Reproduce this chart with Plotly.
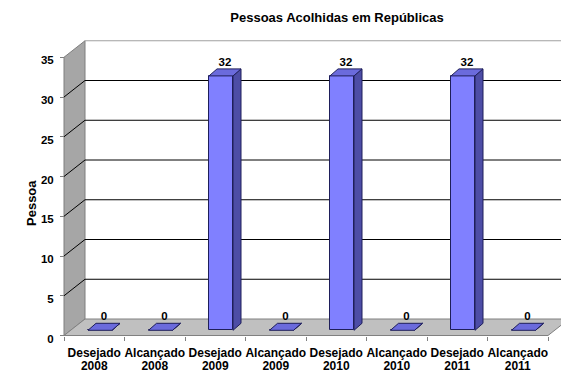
import plotly.graph_objects as go

# ---------------- data ----------------
categories = ["Desejado 2008", "Alcançado 2008", "Desejado 2009", "Alcançado 2009",
              "Desejado 2010", "Alcançado 2010", "Desejado 2011", "Alcançado 2011"]
values = [0, 0, 32, 0, 32, 0, 32, 0]
y_ticks = [0, 5, 10, 15, 20, 25, 30, 35]
chart_title = "Pessoas Acolhidas em Repúblicas"
y_title = "Pessoa"

# ---------------- geometry / style ----------------
W, H = 561, 372
ML, MR, MT, MB = 60, 0, 36, 30
PX_CAT = 60.5          # pixels per category
PX_VAL = 7.95          # pixels per value unit
X0_PIX, Y0_PIX = 64, 335.5

xmin = -(X0_PIX - ML) / PX_CAT
xmax = xmin + (W - ML - MR) / PX_CAT
plot_h = H - MT - MB
ymin = -((H - MB) - Y0_PIX) / PX_VAL
ymax = ymin + plot_h / PX_VAL

DX = 21 / PX_CAT        # wall depth
DY = 16.5 / PX_VAL
BASE = 5.2 / PX_VAL     # bar front offset in depth
BAR_L = 24 / PX_CAT
BAR_W = 24 / PX_CAT
BDX = 8 / PX_CAT        # bar depth
BDY = 7 / PX_VAL

FONT = "Liberation Sans, Arial, sans-serif"
FRONT, TOP, SIDE, EDGE = "#8080FF", "#6B6BDC", "#4D4DA6", "#1E1E5A"

n = len(categories)
top_val = y_ticks[-1]
line1 = [c.split(" ")[0] for c in categories]
line2 = [c.split(" ")[1] for c in categories]

fig = go.Figure()

# front faces
xl = [i + BAR_L for i in range(n)]
xr = [x + BAR_W for x in xl]
fig.add_trace(go.Bar(x=[x + BAR_W / 2 for x in xl], y=values, base=BASE, width=BAR_W,
                     marker=dict(color=FRONT, line=dict(color=EDGE, width=1)),
                     hoverinfo="skip", showlegend=False))

# side faces
sx, sy = [], []
for a, b, v in zip(xl, xr, values):
    sx += [b, b + BDX, b + BDX, b, b, None]
    sy += [BASE, BASE + BDY, BASE + v + BDY, BASE + v, BASE, None]
fig.add_trace(go.Scatter(x=sx, y=sy, mode="lines", fill="toself", fillcolor=SIDE,
                         line=dict(color=EDGE, width=1), hoverinfo="skip", showlegend=False))

# top faces
tx, ty = [], []
for a, b, v in zip(xl, xr, values):
    tx += [a, b, b + BDX, a + BDX, a, None]
    ty += [BASE + v, BASE + v, BASE + v + BDY, BASE + v + BDY, BASE + v, None]
fig.add_trace(go.Scatter(x=tx, y=ty, mode="lines", fill="toself", fillcolor=TOP,
                         line=dict(color=EDGE, width=1), hoverinfo="skip", showlegend=False))

# value labels
fig.add_trace(go.Scatter(x=[a + BAR_W / 2 + BDX / 2 for a in xl],
                         y=[BASE + v + BDY for v in values],
                         text=[str(v) for v in values], mode="text",
                         textposition="top center",
                         textfont=dict(family=FONT, size=11.5, color="black", weight="bold"),
                         hoverinfo="skip", showlegend=False))

# dummy traces so the overlay axes exist
for ax in ["x2", "x3"]:
    fig.add_trace(go.Scatter(x=[None], y=[None], xaxis=ax, yaxis="y", mode="markers",
                             hoverinfo="skip", showlegend=False))

# walls, floor, gridlines
shapes = []
shapes.append(dict(type="path", xref="x", yref="y", layer="below",
                   path=f"M 0,0 L 0,{top_val} L {DX},{top_val + DY} L {DX},{DY} Z",
                   fillcolor="#A6A6A6", line=dict(color="#7F7F7F", width=1)))
shapes.append(dict(type="path", xref="x", yref="y", layer="below",
                   path=f"M 0,0 L {n},0 L {n + DX},{DY} L {DX},{DY} Z",
                   fillcolor="#C0C0C0", line=dict(color="#808080", width=1)))
shapes.append(dict(type="line", xref="x", yref="y", layer="below",
                   x0=DX, y0=top_val + DY, x1=n + DX, y1=top_val + DY,
                   line=dict(color="#A0A0A0", width=1)))
for v in y_ticks[1:-1]:
    shapes.append(dict(type="line", xref="x", yref="y", layer="below",
                       x0=DX, y0=v + DY, x1=n + DX, y1=v + DY,
                       line=dict(color="#000000", width=1)))
    shapes.append(dict(type="line", xref="x", yref="y", layer="below",
                       x0=0, y0=v, x1=DX, y1=v + DY,
                       line=dict(color="#000000", width=1)))

posY = (0 - ymin) / (ymax - ymin)
posX = (0 - xmin) / (xmax - xmin)
tickfont = dict(family=FONT, size=12, color="black", weight="bold")
common_x = dict(range=[xmin, xmax], anchor="free", position=posY, showgrid=False,
                zeroline=False, showline=False, fixedrange=True)

fig.update_layout(
    width=W, height=H, autosize=False,
    margin=dict(l=ML, r=MR, t=MT, b=MB, pad=0),
    paper_bgcolor="white", plot_bgcolor="white",
    bargap=0, showlegend=False,
    shapes=shapes,
    title=dict(text=chart_title, x=337 / W, xref="container", xanchor="center",
               y=1 - 17 / H, yref="container", yanchor="middle",
               font=dict(family=FONT, size=13, color="black", weight="bold")),
    xaxis=dict(**common_x, tickvals=[i + 0.5 for i in range(n)], ticktext=line1,
               ticks="", ticklabelstandoff=8, tickfont=tickfont),
    xaxis2=dict(**common_x, overlaying="x", tickvals=[i + 0.5 for i in range(n)],
                ticktext=line2, ticks="", ticklabelstandoff=21, tickfont=tickfont),
    xaxis3=dict(**common_x, overlaying="x", tickvals=list(range(n + 1)),
                ticks="outside", ticklen=4, tickcolor="#808080", showticklabels=False),
    yaxis=dict(range=[ymin, ymax], anchor="free", position=posX, tickvals=y_ticks,
               ticks="outside", ticklen=4, tickcolor="#808080", showgrid=False,
               zeroline=False, showline=False, fixedrange=True,
               ticklabelstandoff=4, ticklabelshift=3,
               tickfont=dict(family=FONT, size=11.5, color="black", weight="bold")),
    annotations=[dict(text=y_title, xref="paper", yref="paper",
                      x=(31 - ML) / (W - ML - MR), y=((H - MB) - 203) / plot_h,
                      textangle=-90, showarrow=False, xanchor="center", yanchor="middle",
                      font=dict(family=FONT, size=13, color="black", weight="bold"))],
)

fig.write_html("out.html", config={"displayModeBar": False},
               post_script="document.body.style.margin='0';document.body.style.overflow='hidden';")
